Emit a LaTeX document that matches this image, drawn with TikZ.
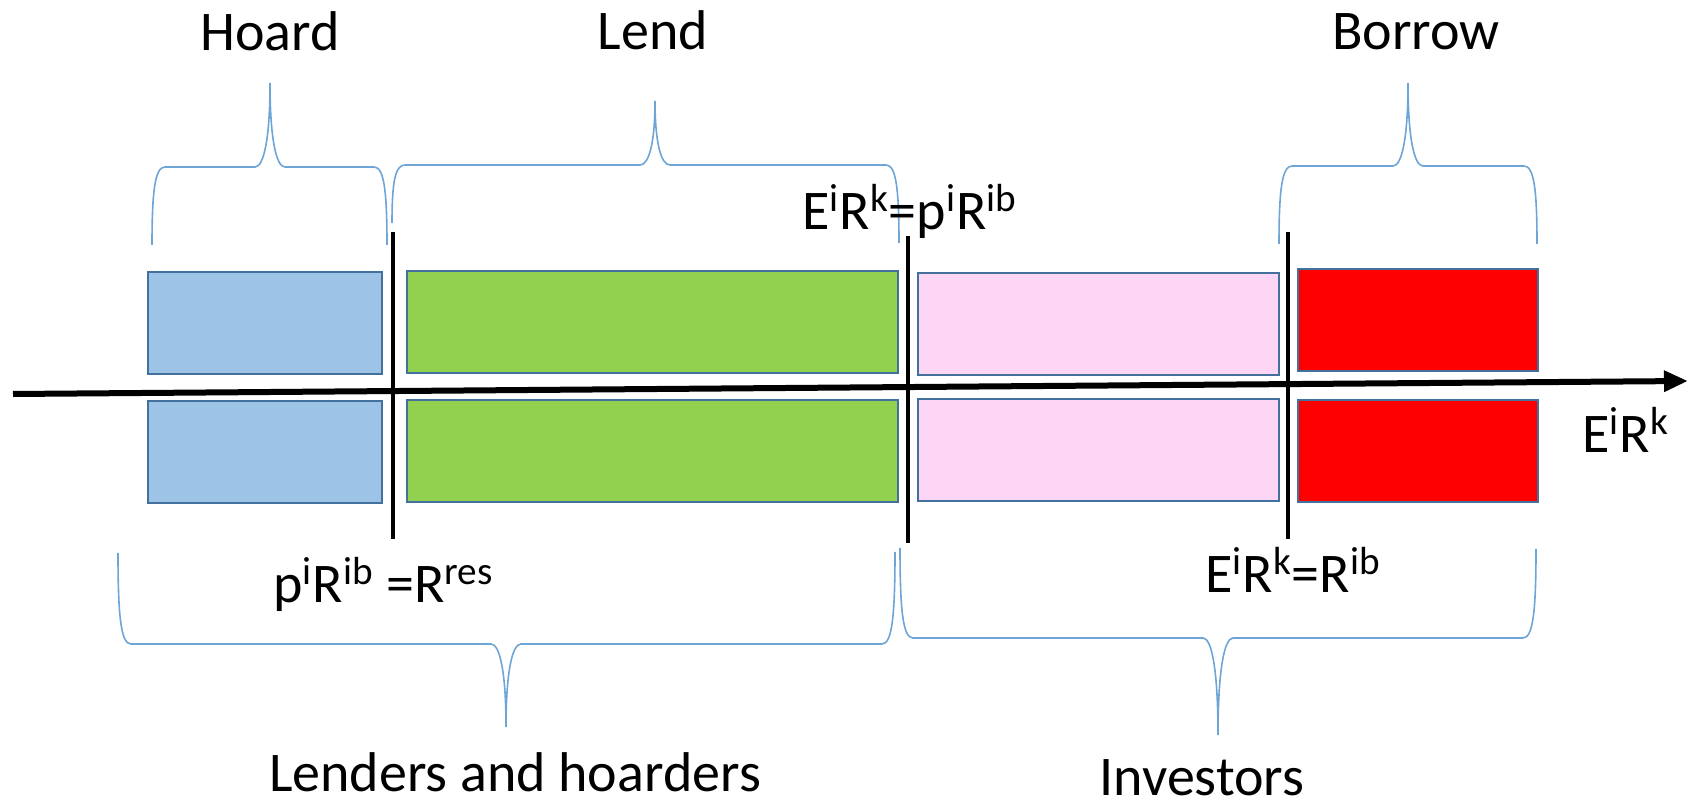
\documentclass[tikz,border=0pt]{standalone}
\usepackage{fontspec}
\setmainfont{Carlito}
\usepackage{xcolor}
\usepackage{tikz}
\usetikzlibrary{arrows.meta,calc}
\definecolor{hoardblue}{RGB}{157,195,230}
\definecolor{lendgreen}{RGB}{146,208,80}
\definecolor{investpink}{RGB}{253,213,245}
\definecolor{borrowred}{RGB}{255,0,0}
\definecolor{boxedge}{RGB}{65,113,156}
\definecolor{bracecol}{RGB}{110,165,215}
\newcommand{\tsup}[1]{\textsuperscript{#1}}
% xl, yl, xr, yr, y of the bar, x tip, y tip
\newcommand{\curlybrace}[7]{%
  \draw[brace] (#1,#2) .. controls (#1,{#5+0.3*(#2-#5)}) and ({#1+3},#5) .. ({#1+13},#5)
    -- ({#6-15},#5) .. controls ({#6-6},#5) and (#6,{#5+0.35*(#7-#5)}) .. (#6,#7)
    .. controls (#6,{#5+0.35*(#7-#5)}) and ({#6+6},#5) .. ({#6+15},#5)
    -- ({#3-13},#5) .. controls ({#3-3},#5) and (#3,{#5+0.3*(#4-#5)}) .. (#3,#4);}

\begin{document}
\begin{tikzpicture}[x=0.5pt, y=-0.5pt, font=\fontsize{28}{33}\selectfont,
  box/.style={draw=boxedge, line width=1pt, inner sep=0pt, anchor=north west, minimum height=51pt},
  lbl/.style={inner sep=0pt, anchor=base},
  brace/.style={draw=bracecol, line width=0.8pt},
  axis/.style={line width=3pt, -{Triangle[length=12pt,width=10pt]}},
  cut/.style={line width=2pt}]
\useasboundingbox (0,0) rectangle (1692,806);
% boxes above and below the axis
\node[box, fill=hoardblue, minimum width=117pt] (hoardup) at (147,271) {};
\node[box, fill=hoardblue, minimum width=117pt] (hoardlo) at (147,400) {};
\node[box, fill=lendgreen, minimum width=245.5pt] (lendup) at (406,270) {};
\node[box, fill=lendgreen, minimum width=245.5pt] (lendlo) at (406,399) {};
\node[box, fill=investpink, minimum width=180.5pt] (invup) at (917,272) {};
\node[box, fill=investpink, minimum width=180.5pt] (invlo) at (917,398) {};
\node[box, fill=borrowred, minimum width=120pt] (borup) at (1297,268) {};
\node[box, fill=borrowred, minimum width=120pt] (borlo) at (1297,399) {};
% axis and thresholds
\coordinate (ax0) at (13,394);
\coordinate (ax1) at (1688,381);
\draw[axis] (ax0) -- (ax1);
\coordinate (cut1t) at (393,232); \coordinate (cut1b) at (393,539);
\coordinate (cut2t) at (908,236); \coordinate (cut2b) at (908,543);
\coordinate (cut3t) at (1288,232); \coordinate (cut3b) at (1288,539);
\draw[cut] (cut1t) -- (cut1b);
\draw[cut] (cut2t) -- (cut2b);
\draw[cut] (cut3t) -- (cut3b);
% braces
\curlybrace{152}{245}{387}{245}{167}{270}{83}
\curlybrace{392}{223}{899}{243}{165}{655}{101}
\curlybrace{1279}{244}{1537}{244}{166}{1408}{83}
\curlybrace{118}{553}{895}{552}{644}{506}{727}
\curlybrace{900}{548}{1536}{549}{638}{1218}{735}
% labels
\node[lbl] (hoard) at (270,51) {Hoard};
\node[lbl] (lend) at (653,50) {Lend};
\node[lbl] (borrow) at (1416,50) {Borrow};
\node[lbl, anchor=base west] (thr2) at (802,230) {E\tsup{i}R\tsup{k}=p\tsup{i}R\tsup{ib}};
\node[lbl, anchor=base west] (thr1) at (273,603) {p\tsup{i}R\tsup{ib} =R\tsup{res}};
\node[lbl, anchor=base west] (thr3) at (1205,593) {E\tsup{i}R\tsup{k}=R\tsup{ib}};
\node[lbl, anchor=base west] (axlbl) at (1582,453) {E\tsup{i}R\tsup{k}};
\node[lbl] (lenders) at (515,791) {Lenders and hoarders};
\node[lbl] (investors) at (1202,795) {Investors};
\end{tikzpicture}
\end{document}
